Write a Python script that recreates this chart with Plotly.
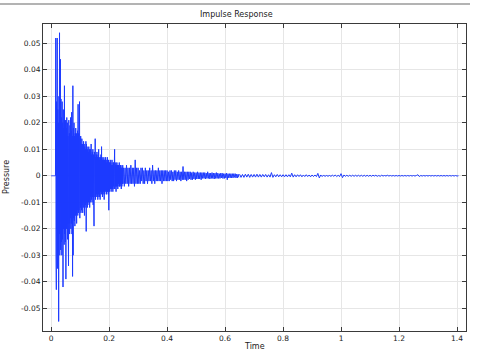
import plotly.graph_objects as go

# ---- data ----
# early part: sampled every 0.001 starting at t = 0
early_t0, early_dt = 0.0, 0.001
early_p = [0.0]*16 + [
    .052, -.030, -.043, .028, -.020, .052, -.035, .025, -.028, .020,
    -.055, .030, -.022, .054, -.030, .026, .044, -.028, .029, -.025,
    .022, -.030, .028, -.024, .020, -.042, .025, -.020, .018, -.026,
    .034, -.022, .020, -.025, .021, -.039, .018, -.020, .022, -.018,
    .020, -.024, .015, -.020, -.034, .021, -.018, .016, -.022, .019,
    -.016, .022, -.020, .017, -.018, .024, -.022, .015, -.038, .034,
    -.030, .018, -.016, .020, -.017, .015, -.019, .016, -.015, .018,
    -.014, .016, -.018, .015, -.013, .017, -.015, .027, -.014, .016,
    -.013, .015, .028, -.016, .014, -.012, .015, -.014, .012, -.013,
    .014, -.011, .012, -.014, .011, -.012, .013, -.010, .012, -.015,
    .011, -.012, .010, -.011, .013, -.021, .012, -.010, .011, -.012,
    .010, -.011, .009, -.010, .011, -.009, .010, -.012, .009, -.010,
    .010, -.008, .012, -.009, .008, -.010, .009, -.008, .010, -.011,
    .008, -.009, -.019, .009, .008, -.008, .014, -.009, .007, -.008,
    .008, -.007, .009, -.008, .007, -.009, .008, -.007, .010, -.008,
    .007, -.008, .006, -.009, .007, -.006, .008, -.007, .011, -.006,
    .007, -.008, .006, -.007, .006, -.006, .007, -.009, .006, -.007,
    .006, -.006, .007, -.005, .006, -.007, .005, -.006, .007, -.006,
    .005, -.007, .006, -.013, .005, -.006, .005, -.005, .006, -.005,
    .005, -.006, .004, -.005, .006, -.005, .004, -.006, .005, -.004,
    .005, -.005, .004, .010, -.005, .004, -.004, .005, -.006, .004,
    -.004, .005, -.004, .004, -.005, .004, -.003, .004, -.004, .005,
    -.004, .003, -.004, .004, -.003, .004, -.005, .003, -.004, .003,
    -.003, .004, -.003, .003,
]

# middle part: sampled every 0.0025 starting at t = 0.25
mid_t0, mid_dt = 0.25, 0.0025
mid_p = [
    .003, -.004, .003, -.003, .004, -.003, .003, -.004, .003, -.003,
    .004, -.003, .003, -.003, .003, -.004, .006, -.003, .003, -.003,
    .003, -.003, .002, -.003, .003, -.002, .003, -.003, .002, -.003,
    .003, -.002, .002, -.003, .002, -.002, .003, -.002, .002, -.003,
    .004, -.002, .002, -.003, .002, -.002, .002, -.002, .003, -.002,
    .002, -.002, .002, -.003, .002, -.002, .002, -.002, .002, -.002,
    .002, -.002, .0015, -.002, .002, -.0015, .002, -.002, .0015, -.002,
    .002, -.0015, .002, -.002, .0015, -.0015, .002, -.0015, .0015, -.002,
    .0015, -.0015, .0035, -.0015, .0015, -.0015, .0015, -.002, .0015, -.0015,
    .0015, -.0012, .0015, -.0015, .0012, -.0015, .0015, -.0012, .0012, -.0015,
    .0012, -.0012, .0015, -.0012, .0012, -.0012, .0012, -.0015, .0012, -.001,
    .0012, -.001, .0012, -.0012, .001, -.001, .0015, -.001, .001, -.0012,
    .001, -.001, .0012, -.001, .001, -.0012, .001, -.001, .0012, -.001,
    .001, -.001, .0008, -.001, .001, -.0008, .001, -.001, .0008, -.001,
    .0008, -.0008, .001, -.0015, .0008, -.0008, .0008, -.0008, .0008, -.0008,
    .0008, -.0008, .0008, -.0006, .0008, -.0008, .0006, -.0008, .0006, -.0006,
]

# late part: sampled every 0.005 starting at t = 0.65
late_t0, late_dt = 0.65, 0.005
late_p = [
    .0006, -.0006, .0005, -.0006, .0006, -.0005, .0006, -.0006, .0005, -.0005,
    .0005, -.0005, .0006, -.0005, .0005, -.0005, .0005, -.0004, .0005, -.0005,
    .0004, -.0005, .0012, -.0006, .0004, -.0004, .0005, -.0004, .0004, -.0004,
    .0004, -.0004, .0004, -.0004, .0004, -.0004, .0010, -.0005, .0004, -.0004,
    .0004, -.0003, .0004, -.0004, .0003, -.0003, .0004, -.0003, .0003, -.0004,
    .0003, -.0003, .0003, -.0003, .0009, -.0008, .0003, -.0003, .0003, -.0003,
    .0003, -.0003, .0003, -.0003, .0003, -.0002, .0003, -.0003, .0002, -.0003,
    .0008, -.0007, .0003, -.0002, .0002, -.0002, .0002, -.0002, .0002, -.0002,
    .0002, -.0002, .0002, -.0002, .0002, -.0002, .0002, -.0002, .0002, -.0002,
    .0002, -.0002, .0002, -.0001, .0002, -.0002, .0001, -.0002, .0002, -.0001,
    .0001, -.0001, .0002, -.0001, .0001, -.0001, .0001, -.0001, .0001, -.0001,
    .0001, -.0001, .0001, -.0001, .0001, -.0001, .0001, -.0001, .0001, -.0001,
    .0001, -.0001, .0001, .0004, -.0003, .0001, -.0001, .0001, -.0001, .0001,
    -.0001, .0001, -.0001, .0001, -.0001, .0001, -.0001, .0001, -.0001, .0001,
    -.0001, .0001, -.0001, .0001, -.0001, .0001, -.0001, .0001, -.0001, .0001,
    -.0001, 0.0,
]

x_tickvals = [0, 0.2, 0.4, 0.6, 0.8, 1.0, 1.2, 1.4]
x_ticktext = ["0", "0.2", "0.4", "0.6", "0.8", "1", "1.2", "1.4"]
y_tickvals = [-0.05, -0.04, -0.03, -0.02, -0.01, 0, 0.01, 0.02, 0.03, 0.04, 0.05]
y_ticktext = ["-0.05", "-0.04", "-0.03", "-0.02", "-0.01", "0",
              "0.01", "0.02", "0.03", "0.04", "0.05"]

title_text = "Impulse Response"
x_title = "Time"
y_title = "Pressure"

# ---- figure ----
LINE = "rgb(28,58,255)"
FONT = "DejaVu Sans"
W, H = 482, 351
L, R, T, B = 43, 16, 24, 20

fig = go.Figure()
for t0, dt, p in [(early_t0, early_dt, early_p),
                  (mid_t0, mid_dt, mid_p),
                  (late_t0, late_dt, late_p)]:
    fig.add_trace(go.Scatter(x0=t0, dx=dt, y=p, mode="lines",
                             line=dict(color=LINE, width=1, simplify=False),
                             showlegend=False, hoverinfo="skip"))

axis_common = dict(showline=True, linecolor="#3a3a3a", linewidth=1, mirror="allticks",
                   ticks="inside", ticklen=4, tickcolor="#3a3a3a", tickwidth=1,
                   showgrid=True, gridcolor="#e6e6e6", gridwidth=1, zeroline=False,
                   automargin=False,
                   tickfont=dict(family=FONT, size=7.5, color="#222"))

fig.update_layout(
    width=W, height=H,
    margin=dict(l=L, r=R, t=T, b=B, pad=0, autoexpand=False),
    paper_bgcolor="white", plot_bgcolor="white",
    font=dict(family=FONT, size=8, color="#222"),
    xaxis=dict(range=[-0.028, 1.431], tickvals=x_tickvals, ticktext=x_ticktext, **axis_common),
    yaxis=dict(range=[-0.0586, 0.0573], tickvals=y_tickvals, ticktext=y_ticktext, **axis_common),
    showlegend=False,
)

pw, ph = W - L - R, H - T - B
def px_x(x):
    return (x - L) / pw
def px_y(y):
    return (H - B - y) / ph

fig.add_annotation(text=title_text, xref="paper", yref="paper", x=px_x(236), y=px_y(15),
                   showarrow=False, xanchor="center", yanchor="middle",
                   font=dict(family=FONT, size=8, color="#222"))
fig.add_annotation(text=x_title, xref="paper", yref="paper", x=px_x(254), y=px_y(346),
                   showarrow=False, xanchor="center", yanchor="middle",
                   font=dict(family=FONT, size=8, color="#222"))
fig.add_annotation(text=y_title, xref="paper", yref="paper", x=px_x(6), y=px_y(177),
                   showarrow=False, xanchor="center", yanchor="middle", textangle=-90,
                   font=dict(family=FONT, size=8, color="#222"))

fig.add_shape(type="line", xref="paper", yref="paper",
              x0=px_x(0), x1=px_x(470), y0=px_y(4), y1=px_y(4),
              line=dict(color="#9a9a9a", width=1.5))

fig.write_html("out.html")
